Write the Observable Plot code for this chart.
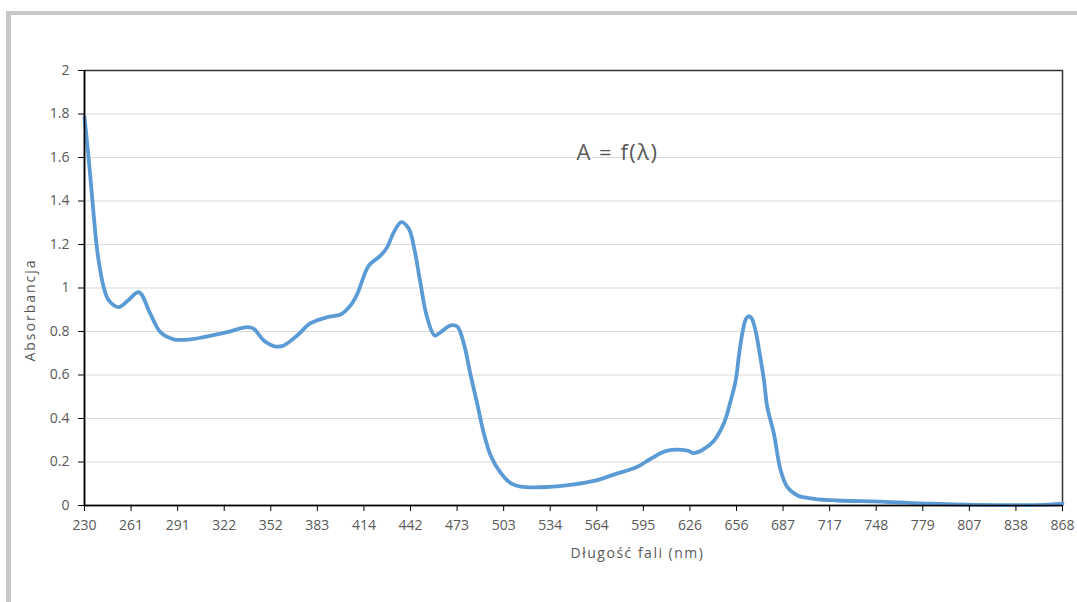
<!DOCTYPE html>
<html><head><meta charset="utf-8">
<script src="https://cdn.jsdelivr.net/npm/d3@7"></script>
<script src="https://cdn.jsdelivr.net/npm/@observablehq/plot@0.6"></script>
<style>
body{margin:0;background:#fff;width:1077px;height:602px;overflow:hidden;position:relative;font-family:"Open Sans",sans-serif}
#frame{position:absolute;left:6px;top:11px;width:1200px;height:700px;border-top:4px solid #c8c8c8;border-left:5px solid #c8c8c8}
#chart{position:absolute;left:0;top:0}
</style></head><body><div id="frame"></div><div id="chart"></div>
<script>
const tickLabels = [230,261,291,322,352,383,414,442,473,503,534,564,595,626,656,687,717,748,779,807,838,868];
const yTicks = [0,0.2,0.4,0.6,0.8,1,1.2,1.4,1.6,1.8,2];
const wavelength = [230,232.7,235.3,238,240,242.9,246.2,252.8,259.3,266,273.5,279.9,288.5,299.6,308.4,323.9,336.8,341.1,347.5,355.2,360.7,369.6,378.5,389.6,398.5,405.1,409.6,412.9,416.9,424,428,432,436.5,441,444.3,448.7,452.7,458.1,462.1,468.7,473.1,477.4,481.7,486,490.3,494.6,501.1,507.7,514.3,532.1,549.3,562.2,575.4,591,599.9,611,624.3,628.1,634,641.5,648,652.3,655.5,657.8,660.1,662.1,664.1,666.1,668.8,671.4,674.3,676.5,680.9,685.4,689.8,696.3,707,722.1,751,783.7,812.4,855.9,868];
const absorbance = [1.785,1.6,1.4,1.2,1.1,1.0,0.943,0.912,0.945,0.981,0.88,0.797,0.764,0.764,0.774,0.797,0.82,0.812,0.759,0.731,0.736,0.782,0.838,0.866,0.878,0.92,0.973,1.034,1.103,1.149,1.188,1.257,1.303,1.272,1.188,1.019,0.874,0.782,0.797,0.828,0.823,0.743,0.6,0.468,0.33,0.23,0.15,0.103,0.087,0.085,0.097,0.113,0.142,0.178,0.215,0.252,0.252,0.241,0.255,0.298,0.38,0.483,0.575,0.70,0.80,0.855,0.87,0.86,0.80,0.70,0.575,0.452,0.33,0.161,0.084,0.046,0.031,0.023,0.018,0.008,0.003,0.003,0.008];

const toPos = d3.scaleLinear().domain(tickLabels).range(d3.range(tickLabels.length));
const data = wavelength.map((w, i) => ({pos: toPos(w), a: absorbance[i]}));

const chart = Plot.plot({
  width: 1077, height: 602,
  marginLeft: 84, marginRight: 15, marginTop: 70, marginBottom: 97,
  x: {type: "linear", domain: [0, tickLabels.length - 1]},
  y: {domain: [0, 2]},
  style: {fontFamily: "'Open Sans', sans-serif", fontSize: "14px", color: "#595959", background: "transparent"},
  marks: [
    Plot.gridY(yTicks, {stroke: "#d9d9d9", strokeOpacity: 1, strokeWidth: 1.2}),
    Plot.frame({stroke: "#333", strokeWidth: 1.5}),
    Plot.lineY(data, {x: "pos", y: "a", stroke: "#5b9bd5", strokeWidth: 3.8, curve: "catmull-rom"}),
    Plot.axisY(yTicks, {tickSize: 6, tickPadding: 9, tickFormat: d => String(+d.toFixed(1)), stroke: "#000", fill: "#595959", label: null}),
    Plot.axisX(d3.range(tickLabels.length), {tickSize: 6, tickPadding: 9, tickFormat: i => String(tickLabels[i]), stroke: "#000", fill: "#595959", label: null}),
    Plot.ruleY([0], {stroke: "#000", strokeWidth: 1.6}),
    Plot.ruleX([0], {stroke: "#000", strokeWidth: 1.6}),
    Plot.text(["A = f(λ)"], {frameAnchor: "top", dx: 44, dy: 82, textAnchor: "middle", lineAnchor: "middle", fontSize: 22, fill: "#595959"}),
    Plot.text(["Absorbancja"], {frameAnchor: "left", rotate: -90, dx: -54, dy: 22, textAnchor: "middle", lineAnchor: "middle", fontSize: 14, fill: "#595959"}),
    Plot.text(["Długość fali (nm)"], {frameAnchor: "bottom", dx: 64, dy: 48, textAnchor: "middle", lineAnchor: "middle", fontSize: 14, fill: "#595959"})
  ]
});
chart.querySelectorAll("text").forEach(t => {
  if (t.textContent === "Absorbancja") t.style.letterSpacing = "2px";
  if (t.textContent === "Długość fali (nm)") t.style.letterSpacing = "1.5px";
  if (t.textContent === "A = f(λ)") t.style.letterSpacing = "1.5px";
});
document.getElementById("chart").appendChild(chart);
</script>
</body></html>
